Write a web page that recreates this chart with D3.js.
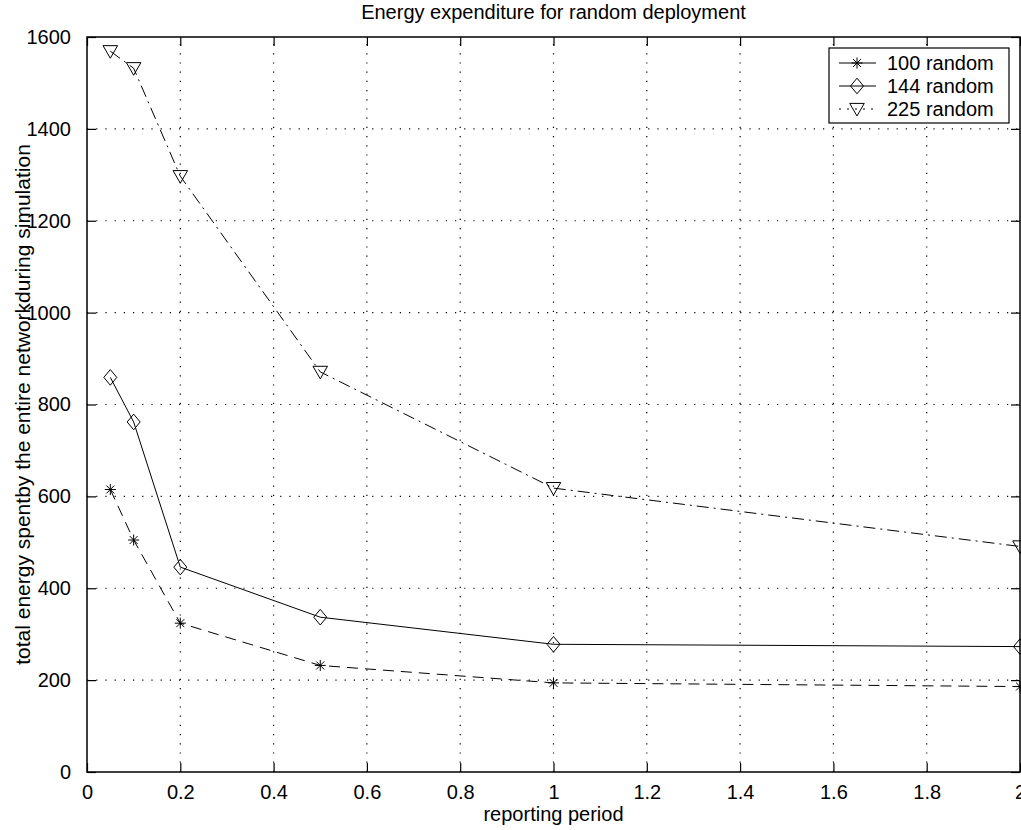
<!DOCTYPE html>
<html>
<head>
    <script src="https://d3js.org/d3.v7.min.js"></script>
    <style>
        body {
            margin: 0;
            background: #fff;
            font-family: 'Liberation Sans', Arial, sans-serif;
        }

        svg text {
            fill: #000;
        }

        .grid line {
            stroke: #000;
            stroke-width: 1.2px;
            stroke-dasharray: 1.2 8;
        }

        .series path.line {
            fill: none;
            stroke: #000;
            stroke-width: 1px;
        }

        .marker {
            fill: none;
            stroke: #000;
            stroke-width: 1px;
        }
    </style>
</head>

<body>
    <script>
        // reporting period values (x) and energy for each deployment size
        const periods = [0.05, 0.1, 0.2, 0.5, 1, 2];
        const energy100 = [615, 505, 324, 232, 194, 186];
        const energy144 = [859, 762, 446, 337, 278, 273];
        const energy225 = [1569, 1532, 1297, 871, 618, 491];

        const seriesNames = ['100 random', '144 random', '225 random'];
        const xTicks = [0, 0.2, 0.4, 0.6, 0.8, 1, 1.2, 1.4, 1.6, 1.8, 2];
        const yTicks = [0, 200, 400, 600, 800, 1000, 1200, 1400, 1600];

        const width = 1021,
            height = 830;
        const margin = {left: 87, right: 1, top: 37, bottom: 58};

        const x = d3.scaleLinear()
            .domain([0, 2])
            .range([margin.left, width - margin.right]);

        const y = d3.scaleLinear()
            .domain([0, 1600])
            .range([height - margin.bottom, margin.top]);

        const svg = d3.select('body').append('svg')
            .attr('width', width)
            .attr('height', height);

        // dotted grid
        const grid = svg.append('g').attr('class', 'grid');
        grid.selectAll('line.v')
            .data(xTicks.slice(1, -1))
            .join('line')
            .attr('x1', d => x(d)).attr('x2', d => x(d))
            .attr('y1', y(0)).attr('y2', y(1600));
        grid.selectAll('line.h')
            .data(yTicks.slice(1, -1))
            .join('line')
            .attr('class', 'h')
            .attr('x1', x(0)).attr('x2', x(2))
            .attr('y1', d => y(d)).attr('y2', d => y(d));

        // axes, matlab style: inward ticks on all four sides
        const tickLen = 9;
        const fmt = d => d3.format('~g')(d);

        svg.append('g')
            .attr('transform', `translate(0,${y(0)})`)
            .call(d3.axisBottom(x).tickValues(xTicks).tickFormat(fmt).tickSizeInner(-tickLen).tickSizeOuter(0).tickPadding(13))
            .call(g => g.select('.domain').remove());
        svg.append('g')
            .attr('transform', `translate(0,${y(1600)})`)
            .call(d3.axisTop(x).tickValues(xTicks).tickFormat('').tickSizeInner(-tickLen).tickSizeOuter(0))
            .call(g => g.select('.domain').remove());
        svg.append('g')
            .attr('transform', `translate(${x(0)},0)`)
            .call(d3.axisLeft(y).tickValues(yTicks).tickFormat(fmt).tickSizeInner(-tickLen).tickSizeOuter(0).tickPadding(16))
            .call(g => g.select('.domain').remove());
        svg.append('g')
            .attr('transform', `translate(${x(2)},0)`)
            .call(d3.axisRight(y).tickValues(yTicks).tickFormat('').tickSizeInner(-tickLen).tickSizeOuter(0))
            .call(g => g.select('.domain').remove());

        svg.selectAll('.tick line').attr('stroke', '#000').attr('stroke-width', 1.2);
        svg.selectAll('.tick text')
            .attr('font-family', "'Liberation Sans', Arial, sans-serif")
            .attr('font-size', 20)
            .attr('fill', '#000');

        // box
        svg.append('rect')
            .attr('x', x(0)).attr('y', y(1600))
            .attr('width', x(2) - x(0)).attr('height', y(0) - y(1600))
            .attr('fill', 'none')
            .attr('stroke', '#000')
            .attr('stroke-width', 1.5);

        // markers
        const star = (s) => {
            const r = s / 2, q = r * 0.72;
            return `M${-r},0H${r}M0,${-r}V${r}M${-q},${-q}L${q},${q}M${-q},${q}L${q},${-q}`;
        };
        const diamond = (s) => `M0,${-s * 0.6}L${s * 0.5},0L0,${s * 0.6}L${-s * 0.5},0Z`;
        const triDown = (s) => `M${-s * 0.52},${-s * 0.4}H${s * 0.52}L0,${s * 0.5}Z`;

        const series = [
            {name: seriesNames[0], values: energy100, dash: '11 7', marker: star, size: 11},
            {name: seriesNames[1], values: energy144, dash: null, marker: diamond, size: 13},
            {name: seriesNames[2], values: energy225, dash: '12 5 2 5', marker: triDown, size: 14}
        ];

        const line = d3.line()
            .x((d, i) => x(periods[i]))
            .y(d => y(d));

        const g = svg.selectAll('g.series')
            .data(series)
            .join('g')
            .attr('class', 'series');

        g.append('path')
            .attr('class', 'line')
            .attr('d', d => line(d.values))
            .attr('stroke-dasharray', d => d.dash);

        g.each(function (s) {
            d3.select(this).selectAll('path.marker')
                .data(s.values)
                .join('path')
                .attr('class', 'marker')
                .attr('transform', (d, i) => `translate(${x(periods[i])},${y(d)})`)
                .attr('d', s.marker(s.size));
        });

        // legend
        const legend = svg.append('g').attr('transform', 'translate(829,48)');
        legend.append('rect')
            .attr('width', 180).attr('height', 75)
            .attr('fill', '#fff')
            .attr('stroke', '#000')
            .attr('stroke-width', 1.2);

        const item = legend.selectAll('g.item')
            .data(series)
            .join('g')
            .attr('class', 'item')
            .attr('transform', (d, i) => `translate(0,${15 + i * 23})`);
        item.append('line')
            .attr('x1', 10).attr('x2', 47)
            .attr('stroke', '#000')
            .attr('stroke-dasharray', (d, i) => i === 2 ? '2 6' : null);
        item.append('path')
            .attr('class', 'marker')
            .attr('transform', 'translate(28,0)')
            .attr('d', d => d.marker(d.size));
        item.append('text')
            .attr('x', 58)
            .attr('dy', '0.35em')
            .attr('font-size', 20)
            .text(d => d.name);

        // titles
        svg.append('text')
            .attr('x', x(1)).attr('y', 12)
            .attr('dy', '0.35em')
            .attr('text-anchor', 'middle')
            .attr('font-size', 20)
            .text('Energy expenditure for random deployment');

        svg.append('text')
            .attr('x', x(1)).attr('y', 814)
            .attr('dy', '0.35em')
            .attr('text-anchor', 'middle')
            .attr('font-size', 20)
            .text('reporting period');

        svg.append('text')
            .attr('transform', `translate(23,${(y(0) + y(1600)) / 2}) rotate(-90)`)
            .attr('dy', '0.35em')
            .attr('text-anchor', 'middle')
            .attr('font-size', 21)
            .text('total energy spentby the entire networkduring simulation');
    </script>
</body>

</html>
